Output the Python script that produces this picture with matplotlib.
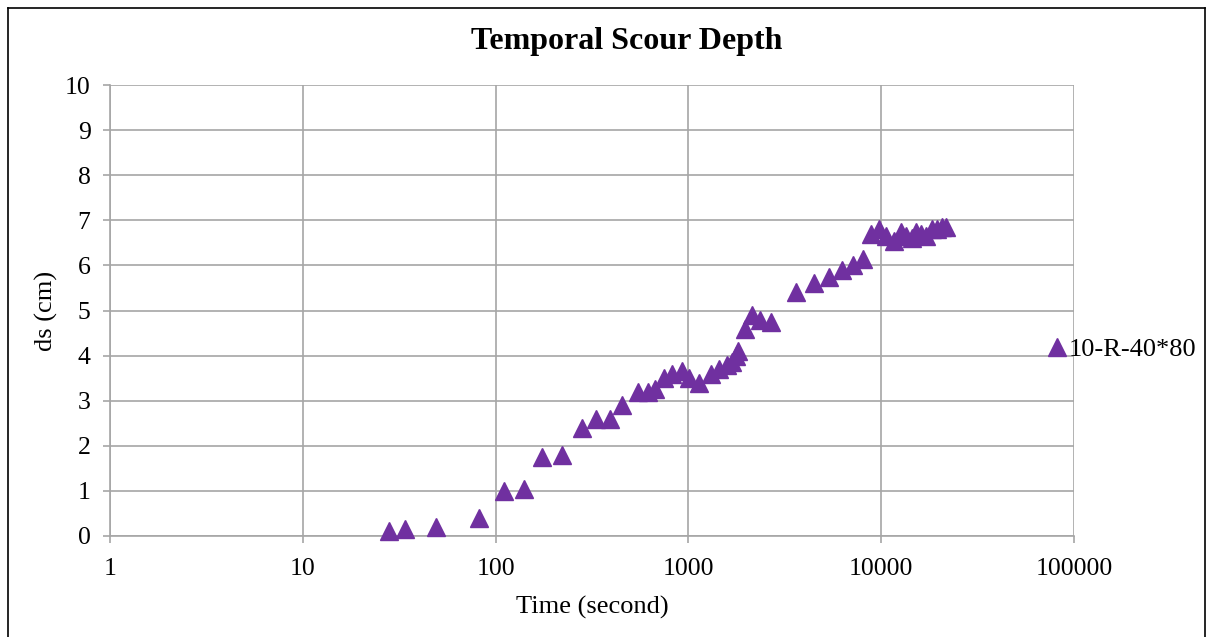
import matplotlib
matplotlib.use("Agg")
import matplotlib.pyplot as plt
from matplotlib.lines import Line2D

plt.rcParams['font.family'] = ['Liberation Serif', 'DejaVu Serif']

time_s = [28, 34, 49, 82, 110, 141, 175, 222, 282, 330, 390, 455, 545, 614, 675,
          751, 818, 931, 1012, 1140, 1316, 1448, 1593, 1680, 1760, 1810, 1973,
          2147, 2360, 2692, 3630, 4498, 5383, 6285, 7165, 8074, 8876, 9770,
          10620, 11680, 12700, 13490, 14490, 15180, 16110, 17100, 18360, 19480,
          20690, 21710]
ds_cm = [0.1, 0.15, 0.2, 0.4, 1.0, 1.05, 1.75, 1.8, 2.4, 2.6, 2.6, 2.9, 3.2, 3.2,
         3.25, 3.5, 3.6, 3.65, 3.5, 3.4, 3.6, 3.7, 3.8, 3.85, 4.0, 4.1, 4.6,
         4.9, 4.8, 4.75, 5.4, 5.6, 5.75, 5.9, 6.0, 6.15, 6.7, 6.8,
         6.65, 6.55, 6.75, 6.65, 6.6, 6.75, 6.7, 6.65, 6.8, 6.8,
         6.85, 6.85]
series_name = "10-R-40*80"
title = "Temporal Scour Depth"
xlabel = "Time (second)"
ylabel = "ds (cm)"
xticks = [1, 10, 100, 1000, 10000, 100000]
xticklabels = ["1", "10", "100", "1000", "10000", "100000"]
yticks = list(range(0, 11))

W, H = 1210, 637
fig = plt.figure(figsize=(W / 100, H / 100), dpi=100)
ax = fig.add_axes([110 / W, 1 - 536 / H, (1074 - 110) / W, (536 - 85) / H])

purple = '#7030A0'
grid_c = '#a6a6a6'
ax.plot(time_s, ds_cm, linestyle='none', marker='^', markersize=13,
        color=purple, markeredgecolor=purple, clip_on=False, zorder=3)

ax.set_xscale('log')
ax.set_xlim(1, 100000)
ax.set_ylim(0, 10)
ax.set_xticks(xticks)
ax.set_xticklabels(xticklabels)
ax.xaxis.set_minor_locator(matplotlib.ticker.NullLocator())
ax.set_yticks(yticks)

ax.grid(True, color=grid_c, linewidth=1.2)
ax.set_axisbelow(True)
for s in ['top', 'right']:
    ax.spines[s].set_visible(False)
for s in ['left', 'bottom']:
    ax.spines[s].set_color(grid_c)
    ax.spines[s].set_linewidth(1.2)
ax.tick_params(axis='both', which='major', direction='out', length=5,
               width=1.2, color=grid_c, labelsize=18.5)
ax.tick_params(axis='y', pad=9)
ax.tick_params(axis='x', pad=11)

ax.set_xlabel(xlabel, fontsize=19, labelpad=11)
ax.set_ylabel(ylabel, fontsize=19, labelpad=5)
fig.text(627 / W, 1 - 42 / H, title, fontsize=23, fontweight='bold',
         ha='center', va='center')

handle = Line2D([], [], linestyle='none', marker='^', markersize=13,
                color=purple)
fig.legend([handle], [series_name], loc='center left',
           bbox_to_anchor=(1046 / W, 1 - 349 / H), frameon=False,
           fontsize=19, handlelength=0.8, handletextpad=0.05, borderpad=0,
           borderaxespad=0)

# outer chart border
bl = 8 / W
br = 1205 / W
bt = 1 - 8 / H
fig.add_artist(Line2D([bl, bl], [-0.01, bt], transform=fig.transFigure, color='black', lw=1.2))
fig.add_artist(Line2D([br, br], [-0.01, bt], transform=fig.transFigure, color='black', lw=1.2))
fig.add_artist(Line2D([bl, br], [bt, bt], transform=fig.transFigure, color='black', lw=1.2))

fig.savefig('out.png', dpi=100)
